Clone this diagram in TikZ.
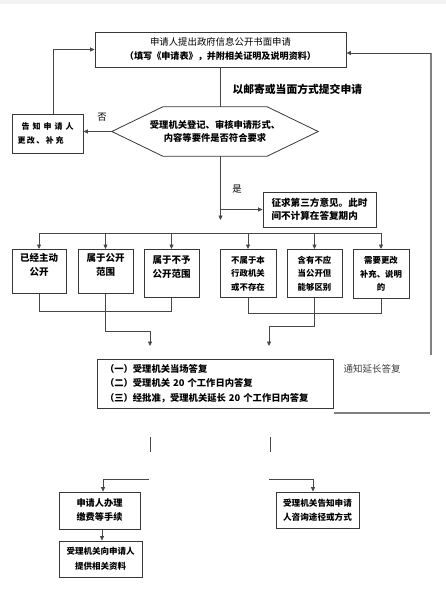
\documentclass[tikz,border=0pt]{standalone}
\usepackage{fontspec}
\setmainfont{Noto Sans CJK SC}
\usetikzlibrary{arrows.meta,calc}
\begin{document}
\begin{tikzpicture}[x=1pt,y=-1pt,
  box/.style={draw=black!78, line width=0.8pt, inner sep=0pt, align=center},
  conn/.style={draw=black!72, line width=0.7pt},
  arr/.style={conn, -{Triangle[length=4.5pt,width=4pt]}},
  loopline/.style={draw=black!50, line width=1.1pt},
  fA/.style={font=\fontsize{9.4}{14}\selectfont},
  fB/.style={font=\bfseries\fontsize{9.3}{13}\selectfont},
  fR/.style={font=\bfseries\fontsize{9.5}{14}\selectfont},
  fS/.style={font=\bfseries\fontsize{8.4}{13.5}\selectfont},
]
\useasboundingbox (0,0) rectangle (446,591);
\fill[black!5] (0,0) rectangle (446,4);

% top box
\node[box, fA, minimum width=251pt, minimum height=35pt] (top) at (220.5,49.5)
  {申请人提出政府信息公开书面申请\\ \bfseries\fontsize{9.1}{14}\selectfont （填写《申请表》，并附相关证明及说明资料）};

% label
\node[anchor=west, font=\bfseries\fontsize{10.8}{12}\selectfont] (mail) at (229,89) {以邮寄或当面方式提交申请};

% hexagon
\node[fB, minimum width=206pt, minimum height=49pt, inner sep=0pt, align=center] (hex) at (215,131.5)
  {受理机关登记、审核申请形式、\\内容等要件是否符合要求};
\draw[draw=black!78, line width=0.8pt] (hex.west) -- ($(hex.north west)+(51,0)$) -- ($(hex.north east)+(-51,0)$)
  -- (hex.east) -- ($(hex.south east)+(-51,0)$) -- ($(hex.south west)+(51,0)$) -- cycle;

% left box
\node[box, font=\bfseries\fontsize{8}{14}\selectfont, minimum width=71pt, minimum height=39pt] (lb) at (47.5,133.5)
  {告\hspace{3pt}知\hspace{3pt}申\hspace{3pt}请\hspace{3pt}人\\更\hspace{1.5pt}改\hspace{1.5pt}、\hspace{1.5pt}补\hspace{1.5pt}充\hspace{14pt}\mbox{}};
\node[fA] (no) at (102,117) {否};
\node[fA] (yes) at (237,189) {是};

% third-party box
\node[box, font=\bfseries\fontsize{9.6}{12.5}\selectfont, align=left, minimum width=113pt, minimum height=35pt] (tb) at (319.5,209.5)
  {征求第三方意见。此时\\间不计算在答复期内};

% row boxes
\node[box, fR, anchor=north, minimum width=54pt, minimum height=44pt] (b1) at (39,249) {已经主动\\公开\\\mbox{}};
\node[box, fR, anchor=north, minimum width=55pt, minimum height=44pt] (b2) at (105.5,249) {属于公开\\范围\\\mbox{}};
\node[box, fR, anchor=north, minimum width=55pt, minimum height=48pt] (b3) at (171.5,249) {属于不予\\公开范围\\\mbox{}};
\node[box, fS, anchor=north, minimum width=56pt, minimum height=48pt] (b4) at (248,249) {不属于本\\行政机关\\或不存在};
\node[box, fS, anchor=north, minimum width=55pt, minimum height=48pt] (b5) at (314.5,249) {含有不应\\当公开但\\能够区别};
\node[box, fS, anchor=north, minimum width=56pt, minimum height=49pt] (b6) at (381,249) {需要更改\\补充、说明\\的};

% response box
\node[box, font=\bfseries\fontsize{9.3}{14.5}\selectfont, align=left, text width=220pt, inner xsep=8pt, inner ysep=0pt, minimum height=49pt] (rb) at (215,383.5)
  {（一）受理机关当场答复\\（二）受理机关 20 个工作日内答复\\（三）经批准，受理机关延长 20 个工作日内答复};
\node[anchor=west, font=\fontsize{9.5}{12}\selectfont, text=black!75] (ext) at (340,369) {通知延长答复};

% bottom boxes
\node[box, font=\bfseries\fontsize{9.2}{14}\selectfont, minimum width=81pt, minimum height=37pt] (c1) at (99.5,510.5) {申请人办理\\缴费等手续};
\node[box, font=\bfseries\fontsize{8.5}{15}\selectfont, minimum width=83pt, minimum height=36pt] (c2) at (100.5,559) {受理机关向申请人\\提供相关资料};
\node[box, font=\bfseries\fontsize{8.6}{14}\selectfont, minimum width=83pt, minimum height=36pt] (c3) at (317.5,510) {受理机关告知申请\\人咨询途径或方式};

% connectors
\draw[conn] (top.south) -- (top.south |- hex.north);
\draw[arr] (hex.west) -- (hex.west -| lb.east);
\draw[arr] ($(lb.north)+(5.5,0)$) |- (top.west);

\coordinate (rt) at (431,53);
\coordinate (rbt) at (431,355);
\draw[loopline] (rbt) -- (rt);
\draw[arr] (rt) -- (rt -| top.east);
\coordinate (hl1) at (334,413);
\coordinate (hl2) at (430,413);
\draw[loopline] (hl1) -- (hl2);

\coordinate (v2) at (220.5,220);
\draw[arr] (top.south |- hex.south) -- (v2);
\draw[arr] (top.south |- tb.west) -- (tb.west);

\coordinate (barL) at (39,233);
\coordinate (barR) at (381,233);
\draw[conn] (barL) -- (barR);
\foreach \b in {b1,b2,b3,b4,b5,b6} \draw[arr] (\b.north |- barL) -- (\b.north);

\coordinate (j1) at (0,311);
\draw[conn] (b1.south) -- (b1.south |- j1) -- (b3.south |- j1) -- (b3.south);
\coordinate (j2) at (150,331);
\coordinate (a1) at (150,346);
\draw[arr] (b2.south) |- (j2) -- (a1);
\coordinate (j3) at (0,313);
\draw[conn] (b4.south) -- (b4.south |- j3) -- (b6.south |- j3) -- (b6.south);
\coordinate (j4) at (269,326);
\coordinate (a2) at (269,346);
\draw[arr] (b5.south) |- (j4) -- (a2);

\coordinate (d1) at (150,437);
\coordinate (d2) at (150,452);
\coordinate (d3) at (270,437);
\coordinate (d4) at (270,452);
\draw[conn] (d1) -- (d2);
\draw[conn] (d3) -- (d4);
\coordinate (e1) at (149,479);
\coordinate (e2) at (269,479);
\draw[arr] (e1) -| ($(c1.north)+(3.5,0)$);
\draw[arr] (e2) -| ($(c3.north)+(-4.5,0)$);
\draw[arr] ($(c1.south)+(2.5,0)$) -- ($(c2.north)+(1.5,0)$);
\end{tikzpicture}
\end{document}
